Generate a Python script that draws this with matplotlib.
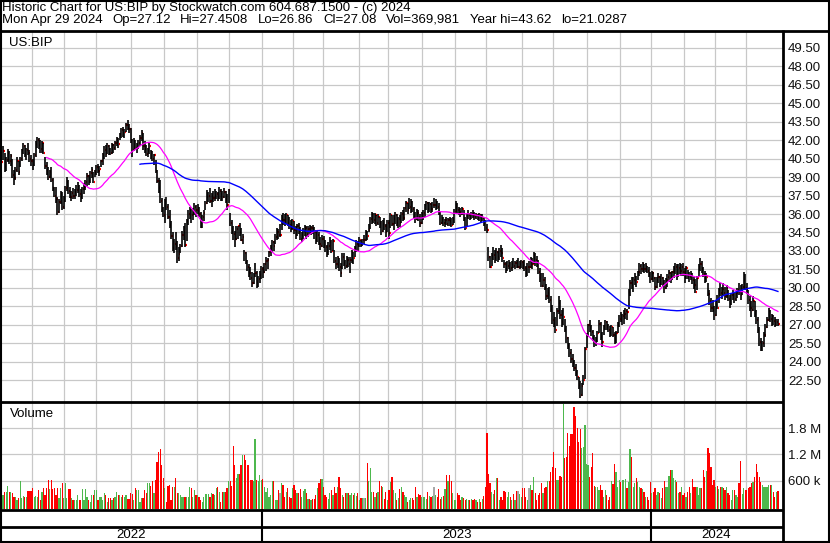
import numpy as np
import pandas as pd
import matplotlib
matplotlib.use("Agg")
import matplotlib.pyplot as plt
from matplotlib.lines import Line2D

# ---------------- data ----------------
highs = [
    41.2,41.5,41.0, 40.6,41.3,41.1, 40.9,40.5,39.6, 39.8,40.6,40.3, 40.6,41.3,41.8,41.6,
    41.4,41.8,41.2, 40.8,40.5,41.0, 41.9,42.3,42.2, 42.0,41.9,41.8, 40.6,40.2,39.8,39.6,
    39.8,38.9,38.2, 38.2,37.4,37.2, 37.9,37.8,37.5, 38.3,39.0,38.8, 38.2,37.9,38.1,38.0,
    38.4,38.6,38.4, 38.0,38.2,38.5, 38.8,39.3,39.2, 39.5,39.8,39.4, 39.6,40.0,40.1,39.9,
    40.4,41.0,41.5, 41.6,41.8,41.6, 41.4,41.8,41.7, 41.9,42.3,42.2, 42.6,43.0,43.1,42.9,
    43.4,43.62,43.3, 43.0,42.1,42.2, 42.0,41.8,42.0, 42.4,42.8,42.6, 41.9,41.6,41.4,41.8,
    41.2,41.1,40.9, 40.4,39.6,38.9, 38.8,37.3,36.6, 37.2,37.4,36.8, 36.3,35.4,34.5,34.0,
    34.5,33.8,33.3, 33.6,34.6,35.0, 35.3,35.6,36.3, 36.6,36.4,36.5, 36.9,36.7,36.8,36.6,
    36.2,35.9,36.3, 37.1,37.95,37.8, 38.1,37.7,37.9, 38.0,37.9,37.8, 38.2,38.0,37.9,38.1,
    37.9,37.6,38.0, 36.1,35.5,35.0, 34.6,35.0,35.0, 35.3,34.9,34.4, 33.1,32.9,32.3,31.9,
    31.7,31.3,31.2, 32.0,31.4,31.0, 31.4,31.8,31.7, 32.0,32.5,32.4, 33.0,33.5,33.9,33.8,
    34.4,34.9,34.8, 35.2,35.9,36.1, 36.0,36.1,35.9, 35.8,35.5,35.6, 35.4,35.0,35.2,35.3,
    34.95,34.5,34.9, 35.1,35.0,35.0, 35.1,35.0,35.1, 34.95,34.7,34.6, 34.5,34.1,34.3,34.2,
    33.9,33.5,33.7, 34.1,33.9,34.0, 33.1,32.5,32.6, 32.4,32.0,32.8, 32.8,32.3,32.6,32.5,
    32.5,33.1,32.9, 33.4,33.9,33.8, 34.1,33.9,34.0, 34.3,34.7,34.6, 35.2,35.8,36.2,36.1,
    36.1,35.9,36.0, 35.8,35.4,35.5, 35.7,35.2,35.5, 35.5,36.1,35.9, 35.9,36.2,36.0,35.8,
    35.9,36.2,36.3, 36.6,37.1,36.9, 37.3,37.2,37.1, 36.6,36.2,36.4, 36.3,36.0,36.2,36.3,
    36.8,37.1,37.0, 37.0,36.9,37.0, 37.3,37.2,37.1, 36.9,36.2,35.9, 35.8,35.6,35.8,35.7,
    35.8,35.7,35.8, 36.4,37.1,36.9, 36.6,36.5,36.6, 36.3,35.8,36.0, 36.3,36.1,36.2,36.3,
    36.2,36.1,36.0, 36.1,36.0,36.0, 35.8,35.5,35.2, 33.3,32.6,32.8, 33.3,33.1,33.2,33.0,
    33.2,33.5,33.2, 32.3,32.1,32.2, 32.3,32.1,32.2, 32.4,32.2,32.3, 32.4,32.2,32.3,32.2,
    32.3,31.8,32.0, 32.2,32.5,32.4, 32.9,32.8,32.6, 32.3,31.6,31.2, 31.2,30.9,30.3,30.0,
    30.1,29.3,28.6, 28.0,27.6,28.4, 29.3,29.0,28.2, 28.4,27.5,26.9, 26.0,25.5,25.0,24.6,
    24.1,23.8,23.3, 22.75,22.4,22.3, 22.9,25.2,26.3, 27.1,27.4,27.0, 26.6,26.2,26.0,26.5,
    27.4,27.2,26.4, 27.0,27.4,27.3, 27.1,26.9,27.0, 26.8,26.4,26.5, 27.2,27.8,28.0,27.9,
    28.2,28.4,28.3, 29.9,30.6,30.9, 30.9,31.2,31.0, 31.4,32.0,31.9, 32.1,31.9,32.0,31.8,
    31.7,31.3,31.4, 31.3,30.9,30.9, 31.2,31.0,31.1, 30.9,30.6,30.8, 31.1,31.45,31.3,31.4,
    31.8,32.0,31.9, 31.9,32.0,31.9, 32.0,31.6,31.8, 31.45,31.3,31.4, 31.2,30.9,30.7,31.0,
    31.9,32.4,32.2, 31.7,31.4,31.2, 30.4,29.8,29.2, 29.0,28.5,28.9, 29.4,30.0,30.4,30.1,
    30.4,30.1,30.2, 29.8,29.4,29.6, 29.8,29.6,29.7, 30.0,30.4,30.2, 30.3,31.3,31.1,30.4,
    29.8,29.3,28.9, 29.3,28.9,28.2, 27.6,26.8,25.9, 25.7,26.4,27.1, 27.6,28.4,28.2,27.9,
    27.8,27.6,27.5,27.45,
]
lows = [
    40.0,40.4,39.4, 39.5,40.2,40.1, 39.9,38.9,38.4, 38.8,39.4,39.2, 39.8,40.3,40.9,40.6,
    40.4,40.8,40.2, 39.9,39.6,39.9, 40.6,41.4,41.3, 41.0,41.0,40.9, 39.7,39.2,38.8,38.9,
    38.6,37.9,37.4, 36.9,35.9,36.1, 36.8,36.3,36.4, 37.0,37.9,37.6, 37.3,37.1,37.2,37.2,
    37.5,37.7,37.4, 37.0,37.2,37.6, 37.95,38.3,38.4, 38.5,38.9,38.5, 39.0,39.2,39.3,39.1,
    39.8,40.0,40.5, 40.6,40.9,40.8, 40.8,40.9,41.0, 41.2,41.5,41.4, 42.0,42.2,42.3,42.2,
    42.7,42.8,42.6, 41.8,40.6,41.1, 41.2,41.0,41.3, 41.5,41.9,41.2, 41.0,40.7,40.6,40.9,
    40.5,40.3,40.0, 39.3,38.5,37.7, 36.9,36.2,35.8, 35.3,36.3,35.6, 34.9,34.0,33.0,32.8,
    33.1,32.0,32.2, 32.8,33.3,33.9, 33.3,33.8,35.1, 35.6,35.3,35.5, 35.9,35.8,36.0,35.8,
    34.9,34.9,35.4, 36.3,36.8,37.0, 36.9,36.6,37.0, 37.1,37.2,37.1, 37.2,37.1,37.1,37.3,
    36.9,36.3,36.9, 35.0,34.4,33.9, 33.3,33.9,34.0, 34.2,33.8,33.6, 32.2,31.9,31.4,30.9,
    30.6,30.1,30.3, 30.9,30.0,30.1, 30.4,30.7,30.8, 31.2,31.4,31.5, 32.5,32.6,32.9,33.0,
    33.6,33.9,34.0, 34.1,34.7,35.1, 35.0,35.2,35.0, 34.8,34.5,34.7, 34.4,34.0,34.2,34.4,
    33.9,33.7,34.0, 34.2,34.0,34.1, 34.4,34.3,34.4, 34.0,33.6,33.7, 33.5,33.1,33.3,33.2,
    32.9,32.5,32.7, 33.1,32.8,33.0, 32.0,31.5,31.6, 31.4,30.9,31.5, 31.8,31.5,31.6,31.7,
    31.2,32.0,31.9, 32.5,32.9,33.0, 33.3,33.3,33.4, 33.6,33.8,33.9, 34.5,34.8,35.2,35.3,
    35.2,35.0,35.1, 34.9,34.3,34.5, 34.7,34.1,34.5, 34.0,34.9,35.0, 34.7,35.2,35.0,34.9,
    34.95,35.3,35.4, 35.5,36.2,36.0, 36.4,36.1,36.2, 35.7,35.3,35.5, 35.4,34.95,35.2,35.5,
    35.8,36.3,36.1, 36.2,36.1,36.2, 36.5,36.3,36.4, 35.9,35.1,35.2, 35.0,34.95,35.1,35.0,
    35.0,34.95,35.1, 35.3,36.0,36.1, 35.9,35.8,35.9, 35.4,34.7,35.0, 35.6,35.5,35.6,35.7,
    35.5,35.6,35.5, 35.4,35.3,35.4, 35.0,34.6,34.45, 32.2,31.6,31.8, 32.3,32.0,32.2,32.1,
    32.3,32.5,32.1, 31.6,31.2,31.4, 31.5,31.3,31.4, 31.6,31.5,31.6, 31.6,31.5,31.6,31.5,
    31.4,30.9,31.0, 31.2,31.6,31.5, 31.9,31.8,31.7, 31.1,30.5,30.1, 30.1,29.8,29.0,29.1,
    28.8,28.0,27.1, 26.8,26.3,26.9, 27.9,27.5,26.8, 27.0,26.4,25.5, 25.0,24.4,23.9,23.6,
    23.2,22.8,22.5, 21.8,21.03,21.2, 22.1,22.6,25.1, 26.0,26.4,26.1, 25.7,25.2,25.3,25.6,
    26.3,25.8,25.2, 26.2,26.6,26.6, 26.4,26.0,26.1, 26.0,25.4,25.5, 26.3,26.8,27.2,27.0,
    27.1,27.5,27.4, 28.3,29.3,29.9, 29.7,30.2,30.1, 30.6,31.0,31.1, 31.3,31.2,31.3,31.2,
    30.9,30.4,30.6, 30.5,29.8,30.0, 30.4,30.1,30.2, 30.1,29.6,29.9, 30.1,30.5,30.4,30.6,
    30.8,31.1,30.6, 30.9,31.1,31.0, 31.0,30.4,30.7, 30.7,30.5,30.6, 30.3,29.9,29.6,29.8,
    30.9,31.4,31.2, 30.9,30.4,30.5, 29.3,28.6,28.0, 28.0,27.4,27.7, 28.3,28.8,29.3,29.1,
    29.4,29.0,29.2, 28.9,28.4,28.6, 29.0,28.8,28.9, 29.2,29.4,29.0, 29.4,29.9,29.8,29.5,
    28.7,28.1,27.6, 28.1,27.6,27.1, 26.3,25.3,24.9, 24.9,25.2,26.0, 26.7,27.3,27.2,26.9,
    27.0,26.8,26.9,26.86,
]
closes = [
    40.2,41.1,39.8, 40.4,41.0,40.3, 40.7,39.2,38.9, 39.6,40.3,39.4, 40.5,41.2,41.5,40.9,
    41.2,41.0,40.5, 40.3,40.0,40.8, 41.7,42.0,41.6, 41.3,41.8,41.0, 39.9,39.6,39.0,39.4,
    38.8,38.1,37.5, 37.2,36.2,37.0, 37.6,36.6,37.1, 38.1,38.6,37.9, 37.4,37.7,37.5,37.8,
    37.95,38.3,37.6, 37.4,38.0,38.2, 38.6,39.1,38.7, 39.3,39.6,38.6, 39.4,39.8,39.5,39.7,
    40.3,40.8,41.2, 40.9,41.5,41.3, 41.0,41.6,41.4, 41.8,42.1,41.7, 42.5,42.8,42.6,42.7,
    43.2,43.0,42.9, 42.0,41.2,41.9, 41.4,41.6,41.8, 42.2,42.6,41.5, 41.3,40.9,41.1,41.5,
    41.05,40.5,40.8, 39.5,38.7,38.1, 37.1,36.5,35.9, 37.1,36.6,35.8, 35.1,34.2,33.2,33.6,
    33.4,32.4,32.75, 33.4,34.3,34.6, 33.5,35.4,36.0, 36.3,35.9,36.1, 36.6,36.3,36.5,36.0,
    34.95,35.8,36.1, 36.9,37.4,37.5, 37.1,37.5,37.3, 37.5,37.6,37.3, 37.9,37.6,37.4,37.8,
    37.2,36.7,37.95, 35.3,34.6,34.4, 34.0,34.8,35.0, 34.5,33.9,34.1, 32.8,32.1,31.7,31.2,
    30.8,30.4,31.0, 31.2,30.5,30.7, 31.05,31.5,31.3, 31.9,32.2,32.3, 32.9,33.2,33.7,33.4,
    34.1,34.5,34.3, 34.3,35.7,35.5, 35.4,35.9,35.3, 35.1,34.9,35.4, 34.7,34.3,35.0,34.6,
    34.0,34.3,34.6, 34.9,34.4,34.8, 34.7,34.9,34.6, 34.5,33.9,34.3, 33.6,33.4,34.0,33.5,
    33.3,32.8,33.4, 33.7,33.0,33.8, 32.2,31.9,32.4, 31.7,31.2,32.5, 32.0,31.8,32.3,31.9,
    32.3,32.9,32.4, 33.2,33.6,33.5, 33.9,33.6,33.9, 33.9,34.5,34.2, 34.7,35.6,36.0,35.5,
    35.9,35.3,35.8, 35.3,34.6,35.2, 35.0,34.5,35.3, 34.45,35.9,35.2, 35.6,35.9,35.3,35.6,
    35.3,36.0,35.7, 36.5,36.9,36.3, 36.6,37.0,36.4, 35.8,35.6,36.1, 35.8,35.3,36.0,36.1,
    36.7,36.9,36.4, 36.8,36.4,36.7, 36.7,37.0,36.6, 36.1,35.3,35.6, 35.3,35.5,35.2,35.5,
    35.4,35.1,35.6, 36.2,36.6,36.3, 36.2,36.0,36.4, 35.6,34.9,35.8, 35.9,35.7,36.0,35.9,
    35.8,35.9,35.7, 35.9,35.6,35.7, 35.2,34.9,34.7, 32.5,31.7,32.6, 32.7,32.4,32.9,32.5,
    33.0,32.8,32.4, 31.9,31.5,31.8, 32.0,31.6,31.9, 31.8,32.0,31.7, 31.7,31.9,32.1,31.8,
    31.6,31.2,31.7, 31.7,32.3,31.9, 32.7,32.3,32.0, 31.3,30.8,30.15, 30.6,30.0,29.3,29.6,
    29.0,28.3,27.4, 27.1,26.6,28.1, 28.8,27.8,27.2, 27.6,26.6,25.9, 25.3,24.7,24.2,23.9,
    23.5,23.1,22.75, 22.1,21.3,22.0, 22.5,25.0,26.1, 27.0,26.7,26.4, 25.9,25.5,25.8,26.3,
    27.1,26.0,25.6, 26.9,27.2,26.8, 26.6,26.3,26.8, 26.2,25.7,26.3, 27.0,27.5,27.4,27.7,
    27.9,28.1,28.0, 29.7,30.4,30.2, 30.6,30.9,30.5, 31.3,31.8,31.5, 31.9,31.5,31.8,31.4,
    31.1,30.7,31.2, 30.8,30.1,30.6, 30.9,30.3,30.8, 30.3,30.0,30.6, 30.9,31.2,30.7,31.3,
    31.5,31.7,31.0, 31.6,31.4,31.7, 31.3,30.8,31.6, 31.0,30.9,31.1, 30.6,30.2,29.7,30.8,
    31.7,31.9,31.5, 31.1,30.7,30.9, 29.5,28.9,28.4, 28.2,27.8,28.6, 28.4,29.8,29.6,29.9,
    29.6,29.3,30.0, 29.1,28.7,29.4, 29.5,29.1,29.6, 29.8,29.7,29.4, 30.1,30.6,30.0,29.8,
    29.0,28.4,28.2, 28.9,27.9,27.4, 26.6,25.6,25.1, 25.5,26.2,26.8, 27.4,28.1,27.5,27.7,
    27.3,27.0,27.2,27.08,
]
volumes_k = [
    603,275,350, 350,480,350, 350,313,237, 237,160,200, 603,198,252,237,
    237,374,374, 374,427,237, 252,237,389, 160,351,427, 275,427,618,404,
    618,404,427, 275,427,198, 427,542,198, 542,198,404, 404,198,160,160,
    160,275,160, 160,404,160, 404,237,160, 122,275,275, 389,389,160,237,
    237,160,313, 275,122,198, 198,160,198, 237,351,275, 275,237,275,237,
    275,175,175, 313,290,160, 427,389,389, 122,198,198, 389,313,542,542,
    481,603,328, 618,1038,1267, 1320,961,656, 427,122,481, 504,160,450,465,
    656,313,328, 275,237,237, 237,237,237, 450,427,237, 389,275,275,237,
    160,122,237, 290,290,290, 237,328,290, 275,427,450, 351,122,351,351,
    351,427,603, 603,481,1396, 961,656,755, 755,961,1190, 1190,1076,961,961,
    618,618,603, 1549,618,603, 732,618,641, 450,351,427, 237,275,603,603,
    160,160,389, 313,542,504, 237,351,427, 237,198,427, 504,389,313,313,
    404,237,374, 404,328,175, 175,160,175, 175,275,427, 542,641,641,450,
    275,237,175, 313,389,275, 450,313,450, 694,427,275, 237,313,313,313,
    275,313,275, 328,252,313, 160,214,214, 214,214,1015, 603,900,351,351,
    237,328,351, 603,481,450, 175,351,160, 389,580,694, 389,313,160,214,
    404,450,351, 275,237,122, 160,198,214, 160,450,237, 290,275,237,237,
    237,175,351, 252,237,252, 465,275,237, 404,175,237, 252,404,732,595,
    732,595,313, 160,160,313, 275,160,237, 198,160,175, 160,160,175,160,
    175,160,122, 175,122,175, 252,450,1701, 755,542,351, 290,389,656,656,
    160,237,160, 374,351,237, 351,237,160, 290,160,374, 374,290,237,427,
    427,237,160, 427,504,389, 694,313,160, 275,313,542, 313,427,450,595,
    595,809,923, 1267,885,618, 618,710,694, 2358,1114,1152, 1686,1396,1663,1663,
    2297,2083,1801, 1495,1778,1343, 1381,1877,984, 961,694,923, 1244,481,450,450,
    389,504,389, 237,389,275, 160,237,595, 526,984,809, 465,618,580,618,
    618,641,427, 580,1320,1137, 450,557,671, 580,450,427, 404,351,237,237,
    160,580,313, 351,427,275, 351,313,198, 427,595,465, 450,710,847,847,
    656,618,580, 328,351,450, 275,313,237, 351,465,313, 641,450,465,465,
    275,427,427, 847,694,832, 1343,1228,923, 504,618,465, 481,404,450,450,
    427,389,450, 313,275,160, 389,389,275, 237,542,1053, 290,427,389,389,
    427,465,542, 580,694,977, 809,694,580, 504,465,450, 465,504,504,504,
    351,237,351,370,
]
price_ticks = [22.5, 24.0, 25.5, 27.0, 28.5, 30.0, 31.5, 33.0, 34.5, 36.0,
               37.5, 39.0, 40.5, 42.0, 43.5, 45.0, 46.5, 48.0, 49.5]
volume_ticks = [600e3, 1.2e6, 1.8e6]
volume_tick_labels = ["600 k", "1.2 M", "1.8 M"]
years = ["2022", "2023", "2024"]
header1 = "Historic Chart for US:BIP by Stockwatch.com 604.687.1500 - (c) 2024"
header2_fields = ["Mon Apr 29 2024", "Op=27.12", "Hi=27.4508", "Lo=26.86", "Cl=27.08",
                  "Vol=369,981", "Year hi=43.62", "lo=21.0287"]
nyse_holidays = ["2022-05-30", "2022-06-20", "2022-07-04", "2022-09-05", "2022-11-24",
                 "2022-12-26", "2023-01-02", "2023-01-16", "2023-02-20", "2023-04-07",
                 "2023-05-29", "2023-06-19", "2023-07-04", "2023-09-04", "2023-11-23",
                 "2023-12-25", "2024-01-01", "2024-01-15", "2024-02-19", "2024-03-29"]

# ---------------- setup ----------------
plt.rcParams['font.family'] = ['Liberation Sans', 'DejaVu Sans']
W, H = 830, 543
fig = plt.figure(figsize=(W / 100, H / 100), dpi=100)
fig.patch.set_facecolor('white')
FS = 9.5

def fx(x):
    return x / W

def fy(y):
    return 1 - y / H

n = len(closes)
dates = pd.bdate_range("2022-04-01", "2024-04-29", freq="C", holidays=nyse_holidays)[-n:]
idx = np.arange(n)
cl = np.array(closes)
hi = np.array(highs)
lo = np.array(lows)
vol = np.array(volumes_k) * 1000.0

PXB = 1.556
XL = -0.3
XR = XL + 782 / PXB
GRID = '#C8C8C8'

month_pos = [i - 0.5 for i in range(1, n) if dates[i].month != dates[i - 1].month]
year_pos = [i - 0.5 for i in range(1, n) if dates[i].year != dates[i - 1].year]

# ---------------- price panel ----------------
axp = fig.add_axes([fx(1), fy(402), 782 / W, 370 / H])
axp.set_xlim(XL, XR)
axp.set_ylim(20.72, 50.80)
for s in axp.spines.values():
    s.set_visible(False)
axp.set_xticks(month_pos)
axp.set_yticks(price_ticks)
axp.set_yticklabels([f"{t:.2f}" for t in price_ticks])
axp.yaxis.tick_right()
axp.tick_params(axis='y', length=0, pad=3.5, labelsize=FS, labelcolor='#111111')
axp.tick_params(axis='x', length=0, labelbottom=False)
axp.grid(True, color=GRID, lw=0.9)
axp.set_axisbelow(True)

axp.hlines(cl, idx + 0.25, idx + 1.05, colors='#FF0000', lw=1.6, zorder=2)
axp.vlines(idx, lo, hi, colors='black', lw=1.2, zorder=3)
ma_short = pd.Series(cl).rolling(30).mean()
ma_long = pd.Series(cl).rolling(90).mean()
axp.plot(idx, ma_short, color='#FF00FF', lw=0.9, zorder=4)
axp.plot(idx, ma_long, color='#0000FF', lw=1.0, zorder=4)
axp.text(8 / 782, 1 - 11 / 370, "US:BIP", transform=axp.transAxes, fontsize=FS,
         va='center', ha='left')

# ---------------- volume panel ----------------
axv = fig.add_axes([fx(1), fy(509), 782 / W, 106 / H])
axv.set_xlim(XL, XR)
vbot = -48e3
axv.set_ylim(vbot, 2.379e6)
for s in axv.spines.values():
    s.set_visible(False)
axv.set_xticks(month_pos)
axv.set_yticks(volume_ticks)
axv.set_yticklabels(volume_tick_labels)
axv.yaxis.tick_right()
axv.tick_params(axis='y', length=0, pad=3.5, labelsize=FS, labelcolor='#111111')
axv.tick_params(axis='x', length=0, labelbottom=False)
axv.grid(True, color=GRID, lw=0.9)
axv.set_axisbelow(True)

colors = []
for i in range(n):
    if i == 0 or cl[i] == cl[i - 1]:
        colors.append('#A8A8A8')
    elif cl[i] > cl[i - 1]:
        colors.append('#4DB84D')
    else:
        colors.append('#FF0000')
axv.bar(idx, vol - vbot, bottom=vbot, width=0.8, color=colors, lw=0, zorder=2)
axv.text(9 / 782, 1 - 11 / 106, "Volume", transform=axv.transAxes, fontsize=FS,
         va='center', ha='left')

# ---------------- header ----------------
fig.text(fx(2), fy(11), header1, fontsize=FS, va='baseline', ha='left')
renderer = fig.canvas.get_renderer()
texts = [fig.text(0, fy(22.7), t, fontsize=FS, va='baseline', ha='left')
         for t in header2_fields]
widths = [t.get_window_extent(renderer).width for t in texts]
line2_start, line2_end = 2.0, 627.0
gap = (line2_end - line2_start - sum(widths)) / (len(texts) - 1)
xcur = line2_start
for t, w in zip(texts, widths):
    t.set_x(fx(xcur))
    xcur += w + gap

# ---------------- frame and year row ----------------
def line(x0, y0, x1, y1, lw=1.5):
    fig.add_artist(Line2D([fx(x0), fx(x1)], [fy(y0), fy(y1)], color='black',
                          lw=lw, solid_capstyle='butt'))

line(0, 0.8, 830, 0.8)
line(0, 30.5, 830, 30.5, 2.0)
line(0, 402, 783, 402, 2.0)
line(0, 509.5, 783, 509.5, 2.0)
line(0, 527, 783, 527, 2.0)
line(0.8, 0, 0.8, 543)
line(829, 0, 829, 543)
line(782.5, 30, 782.5, 543, 2.0)
line(0, 542.3, 830, 542.3)

def to_px(i):
    return 1 + (i - XL) * PXB

bounds = [1] + [to_px(p) for p in year_pos] + [782]
for p in year_pos:
    line(to_px(p), 509, to_px(p), 543, 1.5)
for k, yr in enumerate(years):
    cx = (bounds[k] + bounds[k + 1]) / 2
    fig.text(fx(cx), fy(535.5), yr, fontsize=FS, ha='center', va='center')

fig.savefig("out.png", dpi=100, facecolor='white')
